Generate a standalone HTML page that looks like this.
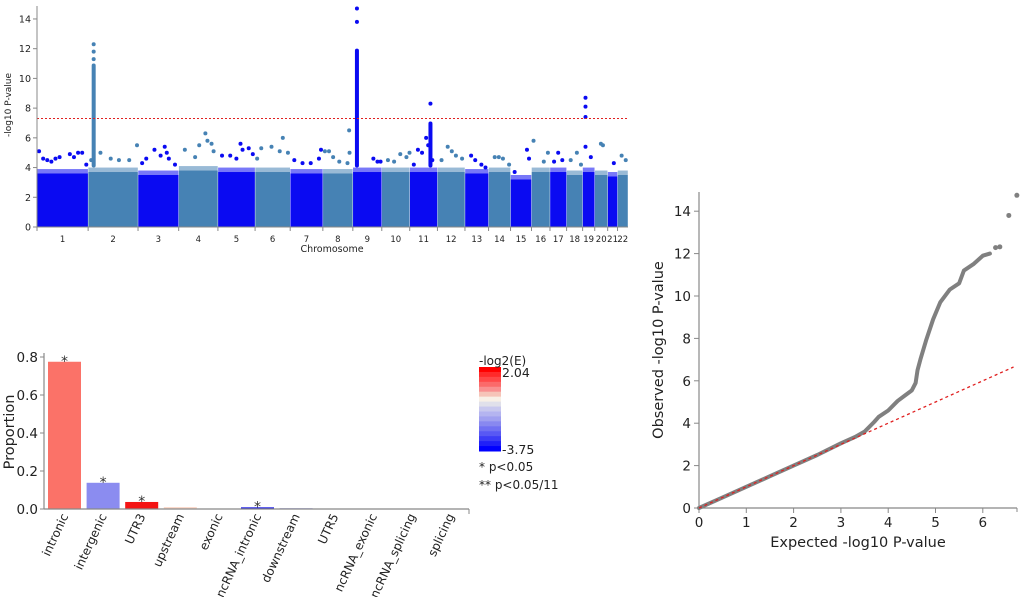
<!DOCTYPE html>
<html><head><meta charset="utf-8"><style>
html,body{margin:0;padding:0;background:#fff;}
svg{display:block;font-family:"DejaVu Sans","Liberation Sans",sans-serif;}
</style></head><body>
<svg id="fig" width="1020" height="597" viewBox="0 0 1020 597">
<g id="man"></g>
<g id="bar"></g>
<g id="qq"></g>
</svg>
<script>
// ---------- Manhattan data ----------
const chrNames=["1","2","3","4","5","6","7","8","9","10","11","12","13","14","15","16","17","18","19","20","21","22"];
const chrLengths=[249,243,198,191,181,171,159,146,141,136,135,134,115,107,102,90,81,78,59,63,48,51];
const chrBandTop=[3.9,4.0,3.8,4.1,4.0,4.0,3.9,3.9,4.0,4.0,4.0,4.0,3.9,4.0,3.5,4.0,4.0,3.8,4.0,3.8,3.7,3.8];
const peakColumns=[[2,27,4,11],[9,20,4,12],[11,101,4,7.1]];
const manPoints=[
[1,10,5.1],[1,30,4.6],[1,50,4.5],[1,70,4.4],[1,90,4.6],[1,110,4.7],[1,160,4.9],[1,180,4.7],[1,200,5.0],[1,220,5.0],[1,240,4.2],
[2,15,4.5],[2,60,5.0],[2,110,4.6],[2,150,4.5],[2,200,4.5],[2,238,5.5],[2,27,11.3],[2,27,11.8],[2,27,12.3],
[3,20,4.3],[3,40,4.6],[3,80,5.2],[3,110,4.8],[3,130,5.4],[3,140,5.0],[3,150,4.6],[3,180,4.2],
[4,30,5.2],[4,80,4.7],[4,100,5.5],[4,130,6.3],[4,140,5.8],[4,160,5.6],[4,170,5.1],
[5,20,4.8],[5,60,4.8],[5,90,4.6],[5,110,5.6],[5,120,5.2],[5,150,5.3],[5,170,4.9],
[6,10,4.6],[6,30,5.3],[6,80,5.4],[6,120,5.1],[6,135,6.0],[6,160,5.0],
[7,20,4.5],[7,60,4.3],[7,100,4.3],[7,140,4.6],[7,150,5.2],
[8,10,5.1],[8,30,5.1],[8,50,4.7],[8,80,4.4],[8,120,4.3],[8,128,6.5],[8,130,5.0],
[9,20,13.8],[9,20,14.7],[9,100,4.6],[9,120,4.4],[9,135,4.4],
[10,30,4.5],[10,60,4.4],[10,90,4.9],[10,120,4.7],[10,135,5.0],
[11,20,4.2],[11,40,5.2],[11,60,5.0],[11,80,6.0],[11,90,5.5],[11,101,8.3],[11,110,4.5],
[12,20,4.5],[12,50,5.4],[12,70,5.1],[12,90,4.8],[12,120,4.6],
[13,30,4.8],[13,50,4.5],[13,80,4.2],[13,100,4.0],
[14,30,4.7],[14,50,4.7],[14,70,4.6],[14,100,4.2],
[15,20,3.7],[15,80,5.2],[15,90,4.6],
[16,10,5.8],[16,60,4.4],[16,80,5.0],
[17,20,4.4],[17,40,5.0],[17,60,4.5],
[18,20,4.5],[18,50,5.0],[18,70,4.2],
[19,14,5.4],[19,14,7.4],[19,14,8.1],[19,14,8.7],[19,40,4.7],
[20,30,5.6],[20,40,5.5],[21,30,4.3],[22,20,4.8],[22,40,4.5]];
const manYTicks=[0,2,4,6,8,10,12,14];
const sigLine=7.3;

// ---------- Bar data ----------
const barCats=["intronic","intergenic","UTR3","upstream","exonic","ncRNA_intronic","downstream","UTR5","ncRNA_exonic","ncRNA_splicing","splicing"];
const barVals=[0.775,0.138,0.037,0.010,0.001,0.009,0.004,0.001,0.0005,0.0003,0.0003];
const barColors=["#fb7268","#8b8cf0","#f41414","#fbd6c6","#f4f0ee","#2121e4","#9a9ae6","#e8e8f4","#eeeef6","#eeeef6","#eeeef6"];
const barStars=["*","*","*","","","*","","","","",""];
const barYTicks=[0.0,0.2,0.4,0.6,0.8];
const legendColors=["#ff0000","#ff2a2a","#ff4848","#fb6a6a","#f99090","#f6c4b8","#f8f0e6","#e0e0ea","#c8c8ee","#b4b4f0","#a0a0f0","#8888f0","#7070f2","#5858f4","#3c3cf6","#2020f8","#0000ff"];

// ---------- QQ data ----------
const qqExpected=[0,0.5,1,1.5,2,2.5,3,3.3,3.5,3.7,3.8,4,4.2,4.35,4.5,4.58,4.62,4.68,4.8,4.95,5.1,5.3,5.5,5.6,5.8,6.0,6.15];
const qqObserved=[0,0.5,1,1.5,2,2.5,3.05,3.35,3.6,4.05,4.3,4.6,5.05,5.3,5.55,5.9,6.5,7.0,7.9,8.9,9.7,10.3,10.6,11.2,11.5,11.9,12.0];
const qqOutX=[6.27,6.36,6.55,6.72];
const qqOutY=[12.28,12.32,13.8,14.75];
const qqXTicks=[0,1,2,3,4,5,6];
const qqYTicks=[0,2,4,6,8,10,12,14];

const NS="http://www.w3.org/2000/svg";
function mk(parent,tag,attrs,text){const e=document.createElementNS(NS,tag);for(const k in attrs)e.setAttribute(k,attrs[k]);if(text!==undefined)e.textContent=text;parent.appendChild(e);return e;}

// ===== Manhattan =====
(function(){
const g=document.getElementById('man');
const x0=37,x1=628,yBase=227,pxPer=14.86;
const total=chrLengths.reduce((a,b)=>a+b,0);
const starts=[];let acc=0;chrLengths.forEach(l=>{starts.push(acc);acc+=l;});
const X=(c,p)=>x0+(starts[c-1]+p)/total*(x1-x0);
const Y=v=>yBase-v*pxPer;
const col=c=>(c%2===1)?"#0a0af2":"#4682b4";
chrLengths.forEach((l,i)=>{
  const r=mk(g,'rect',{x:X(i+1,1),y:Y(chrBandTop[i]-0.3),width:X(i+1,l-1)-X(i+1,1),height:Y(0)-Y(chrBandTop[i]-0.3),fill:col(i+1)});
  
  
  const r2=mk(g,'rect',{x:X(i+1,1),y:Y(chrBandTop[i]),width:X(i+1,l-1)-X(i+1,1),height:Y(chrBandTop[i]-0.3)-Y(chrBandTop[i]),fill:col(i+1),opacity:0.55});
  
  
  const t=mk(g,'text',{x:X(i+1,l/2),y:242,'font-size':8.5,'text-anchor':'middle',fill:'#222'},chrNames[i]);
  
  
  const tk=mk(g,'line',{x1:X(i+1,0),x2:X(i+1,0),y1:yBase,y2:yBase+4,stroke:'#888'});
  
  
});
peakColumns.forEach(p=>{
  const r=mk(g,'rect',{x:X(p[0],p[1])-2,y:Y(p[3]),width:4,height:Y(p[2])-Y(p[3]),rx:2,fill:col(p[0])});
  
  
});
manPoints.forEach(p=>{
  const c=mk(g,'circle',{cx:X(p[0],p[1]),cy:Y(p[2]),r:2,fill:col(p[0])});
  
  
});
const sl=mk(g,'line',{x1:x0,x2:x1,y1:Y(sigLine),y2:Y(sigLine),stroke:'#e02020','stroke-width':1,'stroke-dasharray':'2,2'});


const ya=mk(g,'line',{x1:x0,x2:x0,y1:6,y2:yBase,stroke:'#888'});


const xa=mk(g,'line',{x1:x0,x2:x1,y1:yBase,y2:yBase,stroke:'#888'});


manYTicks.forEach(v=>{
  const l=mk(g,'line',{x1:x0-4,x2:x0,y1:Y(v),y2:Y(v),stroke:'#888'});
  
  
  const t=mk(g,'text',{x:x0-6,y:Y(v)+3.5,'font-size':9.5,'text-anchor':'end',fill:'#222'},v);
  
  
});
const yt=mk(g,'text',{x:11,y:105,'font-size':9,'text-anchor':'middle',fill:'#222',transform:'rotate(-90 11 105)'},'-log10 P-value');


const xt=mk(g,'text',{x:332,y:252,'font-size':9.5,'text-anchor':'middle',fill:'#222'},'Chromosome');


})();

// ===== Bar chart =====
(function(){
const g=document.getElementById('bar');
const ax=44,axEnd=469,y0=509,pxPer=190,step=38.6,bw=33,first=48;
const Y=v=>y0-v*pxPer;
barCats.forEach((c,i)=>{
  const x=first+i*step;
  const r=mk(g,'rect',{x:x,y:Y(barVals[i]),width:bw,height:y0-Y(barVals[i]),fill:barColors[i]});
  
  
  if(barStars[i]){
    const s=mk(g,'text',{x:x+bw/2,y:Y(barVals[i])+4,'font-size':14,'text-anchor':'middle',fill:'#333'},barStars[i]);
    
    
  }
  const cx=x+bw/2+4, cy=516;
  const t=mk(g,'text',{x:cx,y:cy,'font-size':12,'text-anchor':'end',fill:'#222',transform:'rotate(-65 '+cx+' '+cy+')'},c);
  
  
});
const xa=mk(g,'line',{x1:ax,x2:axEnd,y1:y0,y2:y0,stroke:'#888','stroke-width':1.2});


const xe=mk(g,'line',{x1:axEnd,x2:axEnd,y1:y0,y2:y0+5,stroke:'#888'});


const ya=mk(g,'line',{x1:ax,x2:ax,y1:353,y2:y0,stroke:'#888','stroke-width':1.2});


barYTicks.forEach(v=>{
  const l=mk(g,'line',{x1:ax-4,x2:ax,y1:Y(v),y2:Y(v),stroke:'#888'});
  
  
  const t=mk(g,'text',{x:ax-6,y:Y(v)+5,'font-size':13.5,'text-anchor':'end',fill:'#222'},v.toFixed(1));
  
  
});
const yt=mk(g,'text',{x:14,y:432,'font-size':14.5,'text-anchor':'middle',fill:'#222',transform:'rotate(-90 14 432)'},'Proportion');


// legend
const lx=479,ly=367,lw=22,lh=84;
const seg=lh/legendColors.length;
legendColors.forEach((c,i)=>{
  const r=mk(g,'rect',{x:lx,y:ly+i*seg,width:lw,height:seg+0.5,fill:c});
  
  
});
const lt=mk(g,'text',{x:lx,y:365,'font-size':12,fill:'#222'},'-log2(E)');


const lmax=mk(g,'text',{x:lx+lw+1,y:377,'font-size':12.5,fill:'#222'},'2.04');


const lmin=mk(g,'text',{x:lx+lw+1,y:454,'font-size':12.5,fill:'#222'},'-3.75');


const n1=mk(g,'text',{x:lx,y:471,'font-size':12,fill:'#222'},'* p<0.05');


const n2=mk(g,'text',{x:lx,y:489,'font-size':12,fill:'#222'},'** p<0.05/11');


})();

// ===== QQ plot =====
(function(){
const g=document.getElementById('qq');
const x0=699,y0=508,xs=47.3,ys=21.2;
const X=v=>x0+v*xs, Y=v=>y0-v*ys;
const xa=mk(g,'line',{x1:x0,x2:1017,y1:y0,y2:y0,stroke:'#888','stroke-width':1.2});


const xe=mk(g,'line',{x1:1017,x2:1017,y1:y0,y2:y0+4,stroke:'#888'});


const ya=mk(g,'line',{x1:x0,x2:x0,y1:192,y2:y0,stroke:'#888','stroke-width':1.2});


qqXTicks.forEach(v=>{
  const l=mk(g,'line',{x1:X(v),x2:X(v),y1:y0,y2:y0+5,stroke:'#888'});
  
  
  const t=mk(g,'text',{x:X(v),y:y0+19,'font-size':13.5,'text-anchor':'middle',fill:'#222'},v);
  
  
});
qqYTicks.forEach(v=>{
  const l=mk(g,'line',{x1:x0-5,x2:x0,y1:Y(v),y2:Y(v),stroke:'#888'});
  
  
  const t=mk(g,'text',{x:x0-8,y:Y(v)+5,'font-size':13.5,'text-anchor':'end',fill:'#222'},v);
  
  
});
const pts=qqExpected.map((e,i)=>X(e)+','+Y(qqObserved[i])).join(' ');
const pl=mk(g,'polyline',{points:pts,fill:'none',stroke:'#808080','stroke-width':4,'stroke-linejoin':'round','stroke-linecap':'round'});


qqOutX.forEach((e,i)=>{
  const c=mk(g,'circle',{cx:X(e),cy:Y(qqOutY[i]),r:2.5,fill:'#808080'});
  
  
});
const dl=mk(g,'line',{x1:X(0),y1:Y(0),x2:X(6.65),y2:Y(6.65),stroke:'#e02020','stroke-width':1.3,'stroke-dasharray':'3,3'});


const xt=mk(g,'text',{x:858,y:547,'font-size':14.5,'text-anchor':'middle',fill:'#222'},'Expected -log10 P-value');


const yt=mk(g,'text',{x:663,y:350,'font-size':14.5,'text-anchor':'middle',fill:'#222',transform:'rotate(-90 663 350)'},'Observed -log10 P-value');


})();
</script>
</body></html>
